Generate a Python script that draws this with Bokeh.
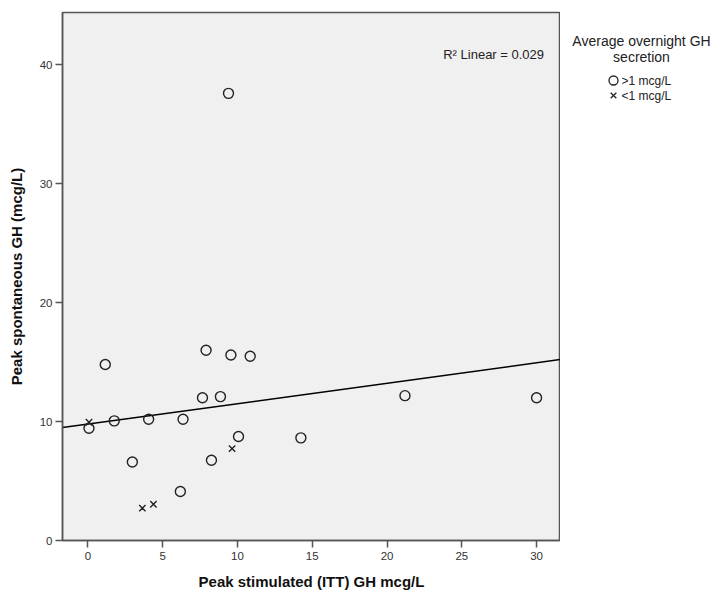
import numpy as np
from bokeh.plotting import figure
from bokeh.layouts import row
from bokeh.models import Label, FixedTicker, Range1d
from bokeh.core.properties import value
from bokeh.embed import file_html
from bokeh.resources import INLINE

# Peak stimulated (ITT) GH vs peak spontaneous GH, mcg/L
high_x = [9.4, 1.16, 7.9, 9.56, 10.85, 7.66, 8.86, 0.07, 1.76, 4.06, 6.36,
          10.07, 14.24, 21.2, 30.0, 2.97, 8.26, 6.18]
high_y = [37.6, 14.8, 16.0, 15.6, 15.5, 12.0, 12.1, 9.44, 10.06, 10.2, 10.2,
          8.74, 8.63, 12.18, 12.0, 6.6, 6.75, 4.12]
low_x = [0.07, 3.64, 4.38, 9.64]
low_y = [9.94, 2.72, 3.05, 7.73]

x_ticks = [0, 5, 10, 15, 20, 25, 30]
y_ticks = [0, 10, 20, 30, 40]

legend_title = ["Average overnight GH", "secretion"]
legend_labels = [">1 mcg/L", "<1 mcg/L"]

FONT = "Liberation Sans"
INK = "#222222"

# Linear fit across all subjects
all_x = np.array(high_x + low_x)
all_y = np.array(high_y + low_y)
slope, intercept = np.polyfit(all_x, all_y, 1)
r2 = np.corrcoef(all_x, all_y)[0, 1] ** 2

x_lo, x_hi = -1.7, 31.6
p = figure(frame_width=498, frame_height=528,
           min_border_left=62, min_border_right=0,
           min_border_top=12, min_border_bottom=54,
           x_range=Range1d(x_lo, x_hi), y_range=Range1d(0, 44.4),
           output_backend="svg", toolbar_location=None)

p.background_fill_color = "#F0F0F0"
p.border_fill_color = "white"
p.outline_line_color = "#555555"
p.outline_line_width = 1.5
p.xgrid.visible = False
p.ygrid.visible = False

for ax in (p.xaxis[0], p.yaxis[0]):
    ax.axis_line_color = "#555555"
    ax.axis_line_width = 1.5
    ax.major_tick_line_color = "#555555"
    ax.major_tick_line_width = 1.5
    ax.major_tick_out = 7
    ax.major_tick_in = 0
    ax.minor_tick_line_color = None
    ax.major_label_text_font = FONT
    ax.major_label_text_font_size = "11.5px"
    ax.major_label_text_color = "#333333"
    ax.axis_label_text_font = FONT
    ax.axis_label_text_font_style = "bold"
    ax.axis_label_text_font_size = "15px"
    ax.axis_label_text_color = "#111111"

p.xaxis.ticker = FixedTicker(ticks=x_ticks)
p.yaxis.ticker = FixedTicker(ticks=y_ticks)
p.xaxis.axis_label = "Peak stimulated (ITT) GH mcg/L"
p.yaxis.axis_label = "Peak spontaneous GH (mcg/L)"
p.xaxis.major_label_standoff = 4
p.yaxis.major_label_standoff = 3
p.xaxis.axis_label_standoff = 10
p.yaxis.axis_label_standoff = 12

# Fit line spanning the full x range
p.line([x_lo, x_hi], [intercept + slope * x_lo, intercept + slope * x_hi],
       line_color="black", line_width=1.5)

p.scatter(high_x, high_y, marker="circle", size=10,
          fill_color=None, line_color=INK, line_width=1.4)
p.scatter(low_x, low_y, marker="x", size=9,
          line_color=INK, line_width=1.4)

p.add_layout(Label(x=x_hi - 1.1, y=40.9, text=f"R² Linear = {r2:.3f}",
                   text_align="right", text_baseline="middle",
                   text_font=FONT, text_font_size="13px", text_color=INK))

# Legend panel to the right of the plot, in pixel coordinates
leg = figure(frame_width=158, frame_height=594, min_border=0,
             x_range=Range1d(0, 158), y_range=Range1d(594, 0),
             output_backend="svg", toolbar_location=None)
leg.axis.visible = False
leg.grid.visible = False
leg.outline_line_color = None
leg.background_fill_color = "white"

leg.text(x=[81, 81], y=[28, 44], text=legend_title,
         text_align="center", text_baseline="middle",
         text_font=value(FONT), text_font_size="14px", text_color=INK)
leg.scatter([53], [68], marker="circle", size=9,
            fill_color=None, line_color=INK, line_width=1.3)
leg.scatter([53], [83], marker="x", size=8,
            line_color=INK, line_width=1.3)
leg.text(x=[61, 61], y=[68, 83], text=legend_labels,
         text_align="left", text_baseline="middle",
         text_font=value(FONT), text_font_size="12px", text_color=INK)

layout = row(p, leg)
open("out.html", "w").write(file_html(layout, INLINE))
